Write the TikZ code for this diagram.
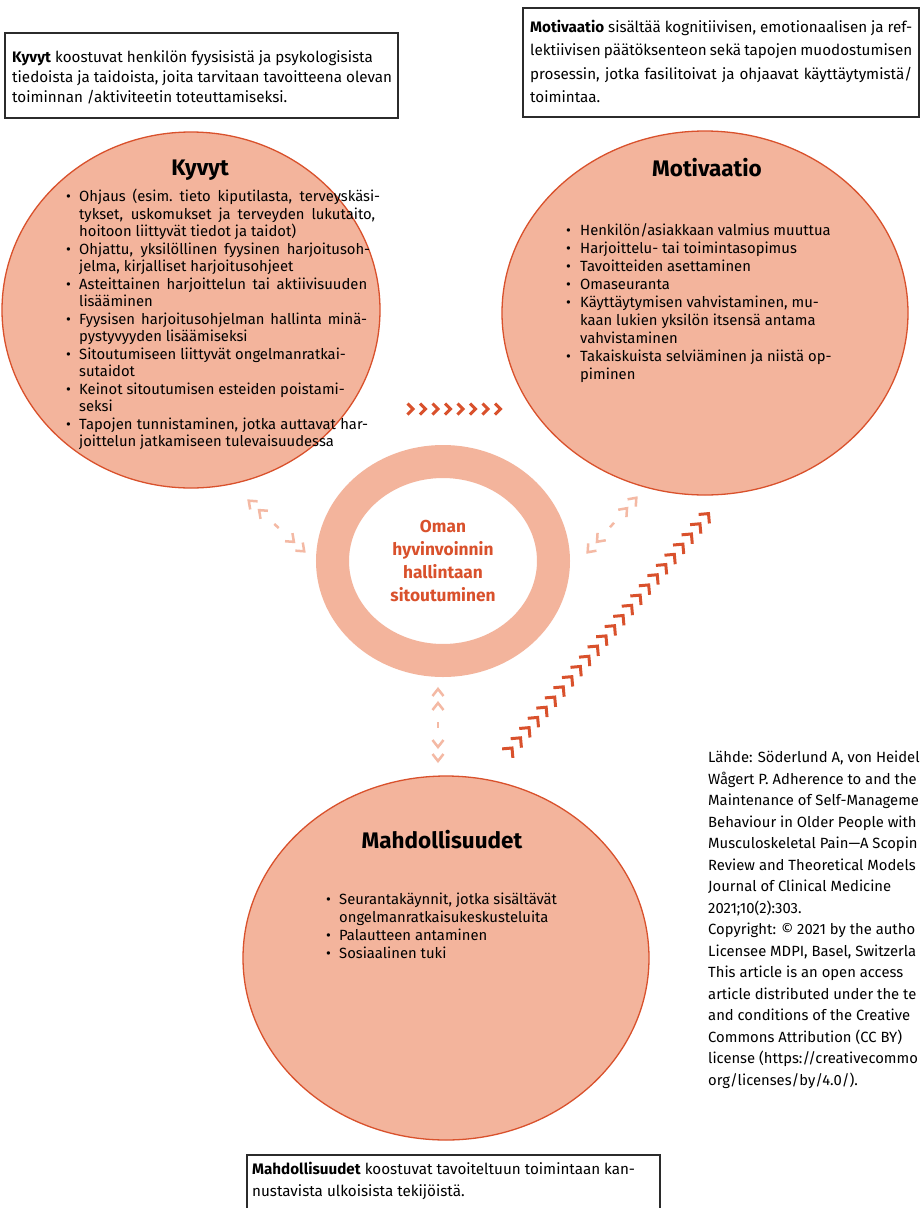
\documentclass[tikz,border=0pt]{standalone}
\usepackage{fontspec}
\setmainfont{Fira Sans}
\usetikzlibrary{decorations.markings,shapes.geometric}
\definecolor{fillc}{HTML}{F3B49C}
\definecolor{edgec}{HTML}{D9512C}
\definecolor{lightc}{HTML}{F4B9A4}
\definecolor{boxc}{HTML}{2B2B2B}
\newcommand{\bi}{\makebox[13pt][l]{•}}
\newcommand{\ci}{\hspace*{13pt}}
\newcommand{\bim}{\makebox[14pt][l]{•}}
\newcommand{\cim}{\hspace*{14pt}}
\newcommand{\jl}[2]{\makebox[#1pt][s]{#2}}
\begin{document}
\begin{tikzpicture}[x=1pt,y=-1pt,
  bubble/.style={ellipse,fill=fillc,draw=edgec,line width=1.3pt,inner sep=0pt},
  infobox/.style={draw=boxc,line width=1.2pt},
  boxtext/.style={anchor=north west,inner sep=0pt,align=left,font=\fontsize{15.2}{#1}\selectfont},
  bullets/.style={anchor=north west,inner sep=0pt,align=left,font=\fontsize{14.8}{#1}\selectfont},
  title/.style={inner sep=0pt,font=\fontsize{22.5}{26}\selectfont\bfseries},
  chevline/.style={draw=edgec,line width=3pt,line join=miter},
  lightline/.style={draw=lightc,line width=2.5pt,line join=miter},
  chevrow/.style 2 args={decoration={markings,
     mark=between positions 0 and 1 step #1 with {\draw[chevline] (-#2,#2) -- (0pt,0pt) -- (-#2,-#2);}},
     decorate},
  dblarrow/.style={decoration={markings,
     mark=at position 1pt with {\draw[lightline] (7pt,5.5pt) -- (0pt,0pt) -- (7pt,-5.5pt);},
     mark=at position 15pt with {\draw[lightline] (7pt,5.5pt) -- (0pt,0pt) -- (7pt,-5.5pt);},
     mark=at position 0.5 with {\draw[lightline] (-3pt,0pt) -- (3pt,0pt);},
     mark=at position -15pt with {\draw[lightline] (-7pt,5.5pt) -- (0pt,0pt) -- (-7pt,-5.5pt);},
     mark=at position -1pt with {\draw[lightline] (-7pt,5.5pt) -- (0pt,0pt) -- (-7pt,-5.5pt);}},
     decorate}
]
\useasboundingbox[fill=white] (0,0) rectangle (923,1208);

% info boxes
\draw[infobox] (5,33) rectangle (398,118);
\node[boxtext=20] (kyvtxt) at (12,50.5) {\textbf{Kyvyt} koostuvat henkilön fyysisistä ja psykologisista\\
tiedoista ja taidoista, joita tarvitaan tavoitteena olevan\\
toiminnan /aktiviteetin toteuttamiseksi.};

\draw[infobox] (523,8) rectangle (919,117);
\node[boxtext=23.3] (mottxt) at (530,20) {\jl{382}{\textbf{Motivaatio} sisältää kognitiivisen, emotionaalisen ja ref-}\\
\jl{382}{lektiivisen päätöksenteon sekä tapojen muodostumisen}\\
\jl{382}{prosessin, jotka fasilitoivat ja ohjaavat käyttäytymistä/}\\
toimintaa.};

\draw[infobox] (247,1212) -- (247,1155) -- (660,1155) -- (660,1212);
\node[boxtext=22] (mahtxt) at (252,1162) {\textbf{Mahdollisuudet} koostuvat tavoiteltuun toimintaan kan-\\
nustavista ulkoisista tekijöistä.};

% bubbles
\node[bubble,minimum width=378pt,minimum height=356pt] (kyv) at (191,310) {};
\node[bubble,minimum width=406pt,minimum height=364pt] (mot) at (705,313) {};
\node[bubble,minimum width=406pt,minimum height=364pt] (mah) at (446,958) {};

\node[title] (kyvt) at (200,170) {Kyvyt};
\node[title] (mott) at (707,168) {Motivaatio};
\node[title] (maht) at (442,840) {Mahdollisuudet};

\node[bullets=17.5] (kyvb) at (66,189) {\bi\jl{301}{Ohjaus (esim.\ tieto kiputilasta, terveyskäsi-}\\
\ci\jl{296}{tykset, uskomukset ja terveyden lukutaito,}\\
\ci hoitoon liittyvät tiedot ja taidot)\\
\bi\jl{291}{Ohjattu, yksilöllinen fyysinen harjoitusoh-}\\
\ci jelma, kirjalliset harjoitusohjeet\\
\bi\jl{288}{Asteittainen harjoittelun tai aktiivisuuden}\\
\ci lisääminen\\
\bi\jl{288}{Fyysisen harjoitusohjelman hallinta minä-}\\
\ci pystyvyyden lisäämiseksi\\
\bi Sitoutumiseen liittyvät ongelmanratkai-\\
\ci sutaidot\\
\bi Keinot sitoutumisen esteiden poistami-\\
\ci seksi\\
\bi\jl{289}{Tapojen tunnistaminen, jotka auttavat har-}\\
\ci joittelun jatkamiseen tulevaisuudessa};

\node[bullets=18] (motb) at (566,223) {\bim Henkilön/asiakkaan valmius muuttua\\
\bim Harjoittelu- tai toimintasopimus\\
\bim Tavoitteiden asettaminen\\
\bim Omaseuranta\\
\bim Käyttäytymisen vahvistaminen, mu-\\
\cim kaan lukien yksilön itsensä antama\\
\cim vahvistaminen\\
\bim Takaiskuista selviäminen ja niistä op-\\
\cim piminen};

\node[bullets=18] (mahb) at (326,893) {\bi Seurantakäynnit, jotka sisältävät\\
\ci ongelmanratkaisukeskusteluita\\
\bi Palautteen antaminen\\
\bi Sosiaalinen tuki};

% central ring
\node[ellipse,draw=fillc,line width=33pt,minimum width=221pt,minimum height=199pt,inner sep=0pt,
  align=center,text=edgec,font=\fontsize{17.3}{23.3}\selectfont\bfseries] (core) at (443,561)
  {Oman\\hyvinvoinnin\\hallintaan\\sitoutuminen};

% connectors
\coordinate (h1) at (413,409);
\coordinate (h2) at (501,409);
\path[chevrow={12.5pt}{5.5pt}] (h1) -- (h2);

\coordinate (d1) at (512,748);
\coordinate (d2) at (709,513);
\path[chevrow={13.3pt}{7pt}] (d1) -- (d2);

\coordinate (la) at (248,500);
\coordinate (lb) at (305,552);
\path[dblarrow] (la) -- (lb);

\coordinate (ra) at (587,553);
\coordinate (rb) at (637,497);
\path[dblarrow] (ra) -- (rb);

\coordinate (va) at (438,688);
\coordinate (vb) at (438,762);
\path[dblarrow] (va) -- (vb);

% source (cut at the right edge, as in the reference)
\begin{scope}
\clip (0,0) rectangle (923,1208);
\node[anchor=north west,inner sep=0pt,align=left,font=\fontsize{14.8}{21.5}\selectfont] (src) at (708,751)
{Lähde: Söderlund A, von Heidel\\
Wågert P. Adherence to and the\\
Maintenance of Self-Manageme\\
Behaviour in Older People with\\
Musculoskeletal Pain—A Scopin\\
Review and Theoretical Models\\
Journal of Clinical Medicine\\
2021;10(2):303.\\
Copyright: © 2021 by the autho\\
Licensee MDPI, Basel, Switzerla\\
This article is an open access\\
article distributed under the te\\
and conditions of the Creative\\
Commons Attribution (CC BY)\\
license (https://creativecommo\\
org/licenses/by/4.0/).};
\end{scope}
\end{tikzpicture}
\end{document}
